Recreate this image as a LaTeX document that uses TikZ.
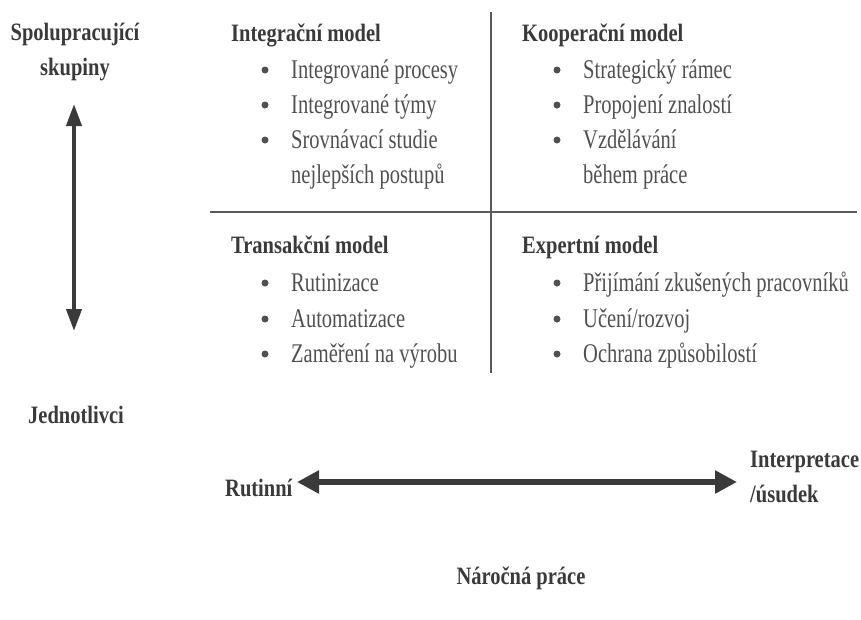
\documentclass[tikz,border=0pt]{standalone}
\usepackage{fontspec}
\setmainfont{Liberation Serif}[FakeStretch=0.76]
\newfontfamily\headface{Liberation Serif}[FakeStretch=0.82]
\usetikzlibrary{arrows.meta}
\definecolor{ink}{HTML}{3A3A3A}
\definecolor{soft}{HTML}{505050}
\definecolor{rulegray}{HTML}{5A5A5A}

\begin{document}
\begin{tikzpicture}[x=1pt,y=-1pt,
  head/.style={anchor=base west, inner sep=0pt, text=ink,
    font=\headface\bfseries\fontsize{25}{35}\selectfont},
  label/.style={inner sep=0pt, text=ink, align=center,
    font=\headface\bfseries\fontsize{25}{35}\selectfont},
  item/.style={anchor=base west, inner sep=0pt, text=soft, align=left,
    font=\fontsize{27}{35}\selectfont},
  dot/.style={circle, fill=soft, inner sep=0pt, minimum size=7pt},
  rule/.style={draw=rulegray, line width=1.1pt},
  vaxis/.style={draw=ink, line width=4pt,
    {Triangle[width=15pt,length=22pt]}-{Triangle[width=15pt,length=22pt]}},
  haxis/.style={draw=ink, line width=6pt,
    {Triangle[width=22pt,length=22pt]}-{Triangle[width=22pt,length=22pt]}}
]
  \useasboundingbox (0,0) rectangle (861,619);

  % quadrant grid
  \coordinate (gridtop) at (491,12);
  \coordinate (gridbot) at (491,373);
  \coordinate (gridleft) at (210,212);
  \coordinate (gridright) at (857,212);
  \draw[rule] (gridtop) -- (gridbot);
  \draw[rule] (gridleft) -- (gridright);

  % top left: integration model
  \node[head] (int) at (231,41) {Integrační model};
  \node[dot] (int1d) at (265,70) {};
  \node[item] (int1) at (291,78) {Integrované procesy};
  \node[dot] (int2d) at (265,105) {};
  \node[item] (int2) at (291,113) {Integrované týmy};
  \node[dot] (int3d) at (265,140) {};
  % two-line item: base anchor sits on the last line
  \node[item] (int3) at (291,183) {Srovnávací studie\\nejlepších postupů};

  % top right: cooperation model
  \node[head] (coop) at (522,41) {Kooperační model};
  \node[dot] (coop1d) at (557,70) {};
  \node[item] (coop1) at (583,78) {Strategický rámec};
  \node[dot] (coop2d) at (557,105) {};
  \node[item] (coop2) at (583,113) {Propojení znalostí};
  \node[dot] (coop3d) at (557,140) {};
  \node[item] (coop3) at (583,183) {Vzdělávání\\během práce};

  % bottom left: transaction model
  \node[head] (trans) at (231,253) {Transakční model};
  \node[dot] (trans1d) at (265,283) {};
  \node[item] (trans1) at (291,291) {Rutinizace};
  \node[dot] (trans2d) at (265,319) {};
  \node[item] (trans2) at (291,327) {Automatizace};
  \node[dot] (trans3d) at (265,354) {};
  \node[item] (trans3) at (291,362) {Zaměření na výrobu};

  % bottom right: expert model
  \node[head] (exp) at (522,253) {Expertní model};
  \node[dot] (exp1d) at (557,283) {};
  \node[item] (exp1) at (583,291) {Přijímání zkušených pracovníků};
  \node[dot] (exp2d) at (557,319) {};
  \node[item] (exp2) at (583,327) {Učení/rozvoj};
  \node[dot] (exp3d) at (557,354) {};
  \node[item] (exp3) at (583,362) {Ochrana způsobilostí};

  % vertical axis
  \node[label] (collab) at (75,52) {Spolupracující\\skupiny};
  \node[label] (indiv) at (76,415) {Jednotlivci};
  \coordinate (vtop) at (74,104);
  \coordinate (vbot) at (74,331);
  \draw[vaxis] (vtop) -- (vbot);

  % horizontal axis
  \node[label, anchor=base west] (rout) at (225,496) {Rutinní};
  \node[label, anchor=west, align=left] (interp) at (750,477) {Interpretace\\/úsudek};
  \coordinate (hleft) at (297,482);
  \coordinate (hright) at (737,482);
  \draw[haxis] (hleft) -- (hright);
  \node[label] (demand) at (521,578) {Náročná práce};
\end{tikzpicture}
\end{document}
